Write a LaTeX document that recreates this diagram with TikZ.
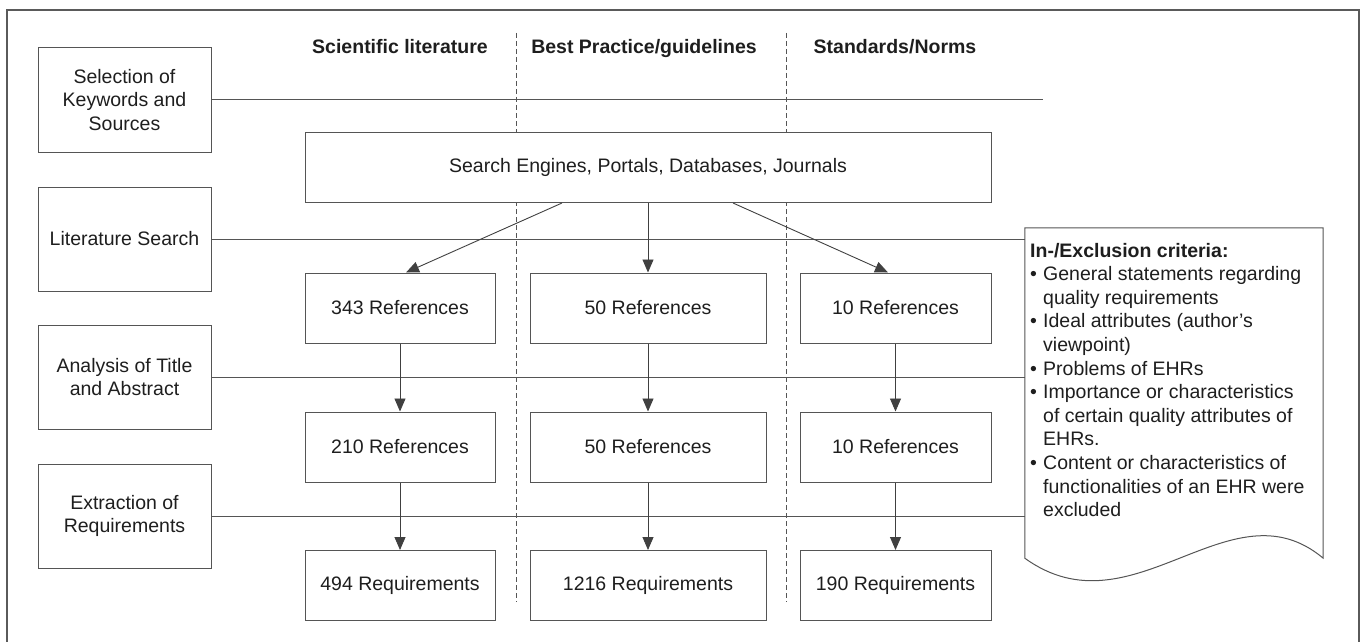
\documentclass[tikz,border=0pt]{standalone}
\usepackage{fontspec}
\setmainfont{Liberation Sans}
\usetikzlibrary{arrows.meta}

\definecolor{framegray}{HTML}{5A5A5A}
\definecolor{linegray}{HTML}{555555}
\definecolor{textdark}{HTML}{1E1E1E}

\tikzset{
  txt/.style={font=\fontsize{19.5}{23.6}\selectfont, text=textdark},
  stagebox/.style={txt, draw=linegray, line width=1pt, fill=white,
    minimum width=173pt, minimum height=104pt, align=center, inner sep=2pt},
  refbox/.style={txt, draw=linegray, line width=1pt, fill=white,
    minimum height=70pt, align=center, inner sep=2pt},
  colhead/.style={txt, font=\fontsize{19.5}{23.6}\selectfont\bfseries, anchor=base},
  guide/.style={draw=linegray, line width=1pt},
  colsep/.style={draw=linegray, line width=0.9pt, dash pattern=on 5pt off 3pt},
  flow/.style={draw=textdark!85, line width=0.9pt,
    -{Triangle[width=11pt,length=13pt]}},
}

\begin{document}
\begin{tikzpicture}[x=1pt, y=-1pt]
\useasboundingbox (0,0) rectangle (1361,642);

% outer frame, open at the bottom
\draw[draw=framegray, line width=2pt] (6.7,642) -- (6.7,9.7) -- (1358.5,9.7) -- (1358.5,642);

% column separators
\coordinate (d1t) at (516.5,33);
\coordinate (d1b) at (516.5,602);
\coordinate (d2t) at (786.5,33);
\coordinate (d2b) at (786.5,602);
\draw[colsep] (d1t) -- (d1b);
\draw[colsep] (d2t) -- (d2b);

% column headings
\node[colhead] (h1) at (400,54) {Scientific literature};
\node[colhead] (h2) at (644,54) {Best Practice/guidelines};
\node[colhead] (h3) at (895,54) {Standards/Norms};

% process stages
\node[stagebox] (s1) at (124.5,100) {Selection of\\Keywords and\\Sources};
\node[stagebox] (s2) at (124.5,239) {Literature Search};
\node[stagebox] (s3) at (124.5,377) {Analysis of Title\\and Abstract};
\node[stagebox] (s4) at (124.5,516) {Extraction of\\Requirements};

% criteria note (document shape with wavy bottom)
\node[minimum width=298pt, minimum height=330pt, inner sep=0pt] (crit) at (1174,393) {};
\draw[guide, fill=white] (crit.south west) -- (crit.north west) -- (crit.north east) -- (crit.south east)
  .. controls ++(-93,-78) and ++(108,78) .. (crit.south west) -- cycle;
% the base anchor of a multi-line node sits on its last line
\node[txt, anchor=base west, align=left, inner sep=0pt] (crittext) at (1030,516.6)
  {\textbf{In-/Exclusion criteria:}\\
   \makebox[13pt][l]{\textbullet}General statements regarding\\
   \hspace*{13pt}quality requirements\\
   \makebox[13pt][l]{\textbullet}Ideal attributes (author’s\\
   \hspace*{13pt}viewpoint)\\
   \makebox[13pt][l]{\textbullet}Problems of EHRs\\
   \makebox[13pt][l]{\textbullet}Importance or characteristics\\
   \hspace*{13pt}of certain quality attributes of\\
   \hspace*{13pt}EHRs.\\
   \makebox[13pt][l]{\textbullet}Content or characteristics of\\
   \hspace*{13pt}functionalities of an EHR were\\
   \hspace*{13pt}excluded};

% stage guide lines
\coordinate (g1end) at (1043,100);
\draw[guide] (s1.east) -- (g1end);
\draw[guide] (s2.east) -- (s2.east -| crit.west);
\draw[guide] (s3.east) -- (s3.east -| crit.west);
\draw[guide] (s4.east) -- (s4.east -| crit.west);

% sources
\node[refbox, minimum width=686pt] (se) at (648,167.5) {Search Engines, Portals, Databases, Journals};

\node[refbox, minimum width=190pt] (r11) at (400,308) {343 References};
\node[refbox, minimum width=236pt] (r12) at (648,308) {50 References};
\node[refbox, minimum width=191pt] (r13) at (895.5,308) {10 References};

\node[refbox, minimum width=190pt] (r21) at (400,447) {210 References};
\node[refbox, minimum width=236pt] (r22) at (648,447) {50 References};
\node[refbox, minimum width=191pt] (r23) at (895.5,447) {10 References};

\node[refbox, minimum width=190pt] (r31) at (400,585.5) {494 Requirements};
\node[refbox, minimum width=236pt] (r32) at (648,585.5) {1216 Requirements};
\node[refbox, minimum width=191pt] (r33) at (895.5,585.5) {190 Requirements};

% flow arrows
\draw[flow] ([xshift=-86pt]se.south) -- ([xshift=6pt]r11.north);
\draw[flow] (se.south) -- (r12.north);
\draw[flow] ([xshift=85pt]se.south) -- ([xshift=-7.5pt]r13.north);

\draw[flow] (r11) -- (r21);
\draw[flow] (r12) -- (r22);
\draw[flow] (r13) -- (r23);
\draw[flow] (r21) -- (r31);
\draw[flow] (r22) -- (r32);
\draw[flow] (r23) -- (r33);
\end{tikzpicture}
\end{document}
